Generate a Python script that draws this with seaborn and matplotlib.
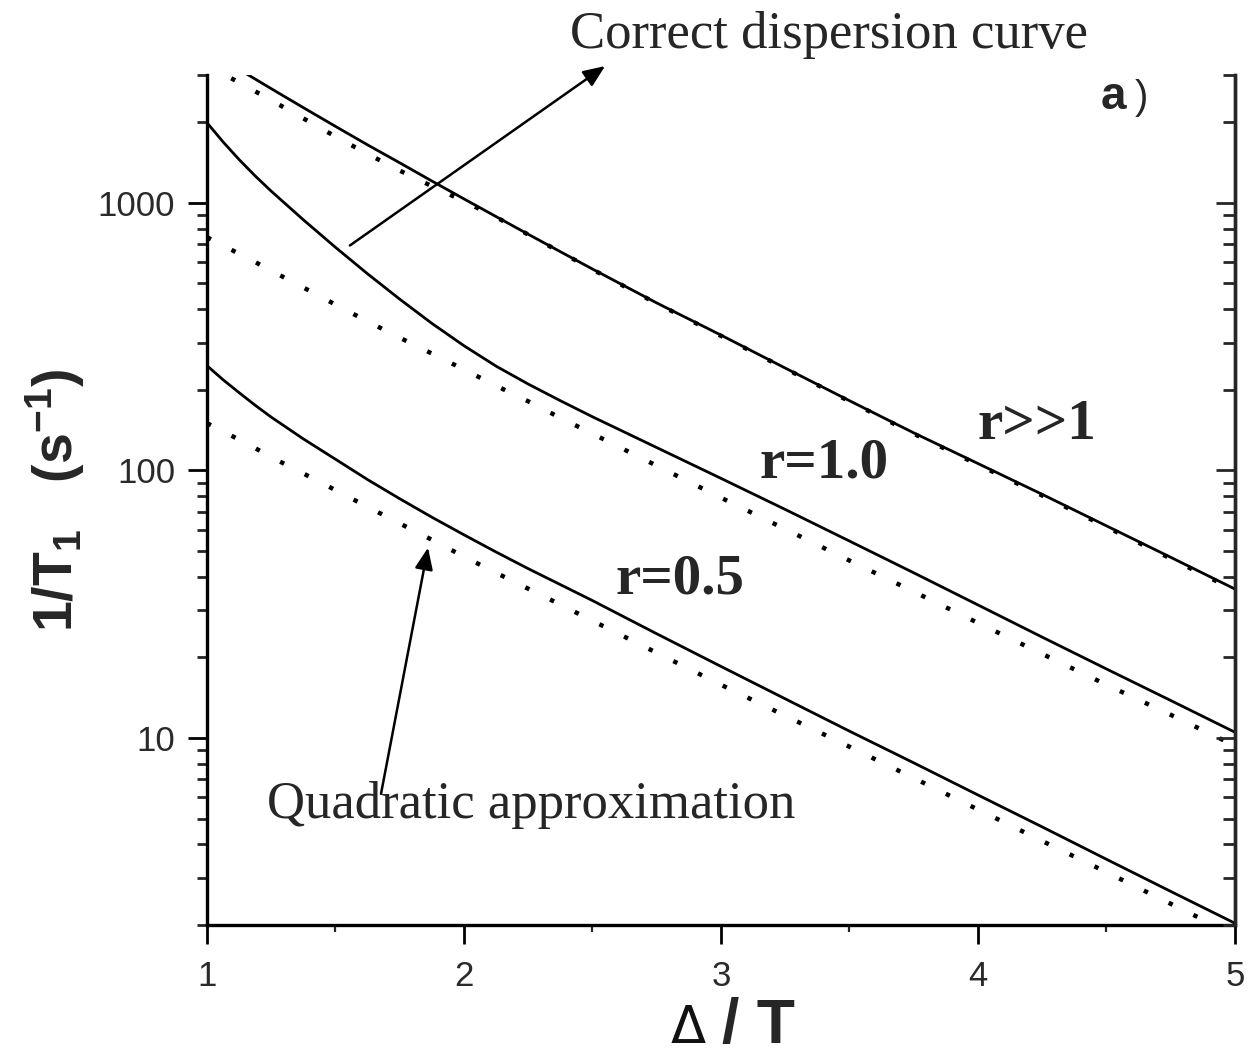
import numpy as np
import pandas as pd
import matplotlib
matplotlib.use("Agg")
import matplotlib.pyplot as plt
import seaborn as sns
from matplotlib.ticker import LogLocator, NullFormatter, FixedLocator

# ---------------- data ----------------
delta_over_T = [1.0, 1.0625, 1.125, 1.1875, 1.25, 1.375, 1.5, 1.625, 1.75, 1.875,
                2.0, 2.125, 2.25, 2.375, 2.5, 2.75, 3.0, 3.25, 3.5, 3.75, 4.0,
                4.25, 4.5, 4.75, 5.0]

r_large_exact = [3715, 3420, 3148, 2897, 2667, 2265, 1928, 1644, 1409, 1205,
                 1033, 887, 762, 656, 565, 422, 320, 241, 182, 138, 106,
                 81.3, 62, 47.3, 36]
r_large_quad = [3266, 3027, 2812, 2606, 2415, 2065, 1766, 1521, 1318, 1153,
                1012, 883, 760, 654, 563, 420, 318, 240, 181, 137, 105,
                80.5, 61.4, 46.8, 35.6]

r10_exact = [1990, 1687, 1449, 1259, 1104, 863, 681, 542, 436, 354,
             292, 245, 210, 182, 158.5, 121.6, 93.3, 71.4, 54.4, 41.4, 31.4,
             23.8, 18.1, 13.8, 10.5]
r10_quad = [743, 692, 644, 600, 557, 482, 416, 360, 313, 273,
            238, 207, 181, 157, 137, 104, 79, 60.3, 46, 35.2, 26.9,
            20.6, 15.8, 12.2, 9.35]

r05_exact = [246, 218, 195, 175, 158, 131, 110, 92.3, 78.3, 66.8,
             57.4, 49.5, 42.9, 37.4, 32.6, 24.5, 18.5, 14.0, 10.6, 8.07, 6.12,
             4.65, 3.52, 2.67, 2.03]
r05_quad = [150, 140, 130, 121, 112, 97.3, 84.3, 73, 63.3, 55,
            47.6, 41.4, 36.1, 31.5, 27.4, 20.8, 15.8, 12.1, 9.27, 7.08, 5.4,
            4.12, 3.15, 2.40, 1.83]

x_ticks = [1, 2, 3, 4, 5]
x_tick_labels = ["1", "2", "3", "4", "5"]
y_ticks = [10, 100, 1000]
y_tick_labels = ["10", "100", "1000"]

curve_labels = ["r>>1", "r=1.0", "r=0.5"]

# ---------------- style ----------------
sns.set_style("ticks")
plt.rcParams["font.family"] = ["Liberation Sans", "DejaVu Sans"]
plt.rcParams["mathtext.fontset"] = "custom"
plt.rcParams["mathtext.bf"] = "Liberation Sans:bold"
plt.rcParams["mathtext.rm"] = "Liberation Sans"
plt.rcParams["mathtext.it"] = "Liberation Sans:italic"

fig = plt.figure(figsize=(12.58, 10.56), dpi=100)
ax = fig.add_axes([207 / 1258, 1 - 925 / 1056, (1235 - 207) / 1258, (925 - 75) / 1056])
ax.set_facecolor("white")
fig.patch.set_facecolor("white")

dot_style = (0, (1, 5.2))
series = [
    (r_large_exact, "-"), (r_large_quad, dot_style),
    (r10_exact, "-"), (r10_quad, dot_style),
    (r05_exact, "-"), (r05_quad, dot_style),
]
for vals, ls in series:
    df = pd.DataFrame({"x": delta_over_T, "y": vals})
    sns.lineplot(data=df, x="x", y="y", ax=ax, color="black",
                 linewidth=2.0 if ls == "-" else 3.2,
                 linestyle=ls, estimator=None, sort=False)

ax.set_yscale("log")
ax.set_xlim(1, 5)
ax.set_ylim(2, 3000)
ax.set_xlabel("")

# ticks
ax.xaxis.set_major_locator(FixedLocator(x_ticks))
ax.set_xticklabels(x_tick_labels)
ax.xaxis.set_minor_locator(FixedLocator([1.5, 2.5, 3.5, 4.5]))
ax.yaxis.set_major_locator(FixedLocator(y_ticks))
ax.set_yticklabels(y_tick_labels)
ax.yaxis.set_minor_locator(LogLocator(base=10, subs=np.arange(2, 10)))
ax.yaxis.set_minor_formatter(NullFormatter())

ax.tick_params(axis="both", which="major", direction="out", length=14, width=2.0,
               labelsize=25, labelcolor="#2a2a2a", color="black")
ax.tick_params(axis="y", which="major", pad=9)
ax.tick_params(axis="x", which="major", pad=11)
ax.tick_params(axis="y", which="minor", direction="out", length=7.5, width=2.0)
ax.tick_params(axis="x", which="minor", direction="out", length=5, width=1.6)

for side in ["left", "bottom", "right"]:
    ax.spines[side].set_linewidth(2.4)
    ax.spines[side].set_color("black")
ax.spines["top"].set_visible(False)

# right axis: inward ticks, no labels
ax2 = ax.twinx()
ax2.set_yscale("log")
ax2.set_ylim(2, 3000)
ax2.yaxis.set_major_locator(FixedLocator(y_ticks))
ax2.yaxis.set_minor_locator(LogLocator(base=10, subs=np.arange(2, 10)))
ax2.yaxis.set_major_formatter(NullFormatter())
ax2.yaxis.set_minor_formatter(NullFormatter())
ax2.tick_params(axis="y", which="major", direction="in", length=14, width=2.0)
ax2.tick_params(axis="y", which="minor", direction="in", length=9, width=2.0)
for side in ["left", "bottom", "top"]:
    ax2.spines[side].set_visible(False)
ax2.spines["right"].set_linewidth(2.4)

# axis labels
ax.set_ylabel(r"$\mathbf{1/T_1\ \ \ (s^{-1})}$", fontsize=40, va="center")
ax.yaxis.set_label_coords(-0.148, 0.5)
# x label: thin Delta followed by bold "/ T"
fig.text(671 / 1258, 1 - 1043 / 1056, "Δ", fontsize=37, fontweight="normal",
         family=["DejaVu Sans"], ha="left", va="baseline", color="#111111")
fig.text(722 / 1258, 1 - 1043 / 1056, "/ T", fontsize=45, fontweight="bold",
         ha="left", va="baseline")

# curve labels
serif = ["Liberation Serif", "DejaVu Serif"]
fig.text(1037 / 1258, 1 - 425 / 1056, curve_labels[0], fontsize=41, fontweight="bold",
         family=serif, ha="center", va="center")
fig.text(824 / 1258, 1 - 463 / 1056, curve_labels[1], fontsize=41, fontweight="bold",
         family=serif, ha="center", va="center")
fig.text(680 / 1258, 1 - 580 / 1056, curve_labels[2], fontsize=41, fontweight="bold",
         family=serif, ha="center", va="center")

# panel tag
fig.text(1101 / 1258, 1 - 97 / 1056, "a", fontsize=33, fontweight="bold",
         ha="left", va="center")
fig.text(1135 / 1258, 1 - 98 / 1056, ")", fontsize=29,
         ha="left", va="center")

# annotations
fig.text(829 / 1258, 1 - 35 / 1056, "Correct dispersion curve", fontsize=38,
         family=serif, ha="center", va="center")
fig.text(531 / 1258, 1 - 805 / 1056, "Quadratic approximation", fontsize=38,
         family=serif, ha="center", va="center")

arrow_kw = dict(arrowstyle="-|>,head_length=0.6,head_width=0.25", color="black",
                lw=1.8, mutation_scale=22, shrinkA=0, shrinkB=0)
ax.annotate("", xy=(2.549, 3240), xytext=(1.556, 692), xycoords="data",
            textcoords="data", arrowprops=arrow_kw, annotation_clip=False)
ax.annotate("", xy=(1.86, 51.4), xytext=(1.677, 6.18), xycoords="data",
            textcoords="data", arrowprops=arrow_kw, annotation_clip=False)

fig.savefig("out.png", dpi=100, facecolor="white")
